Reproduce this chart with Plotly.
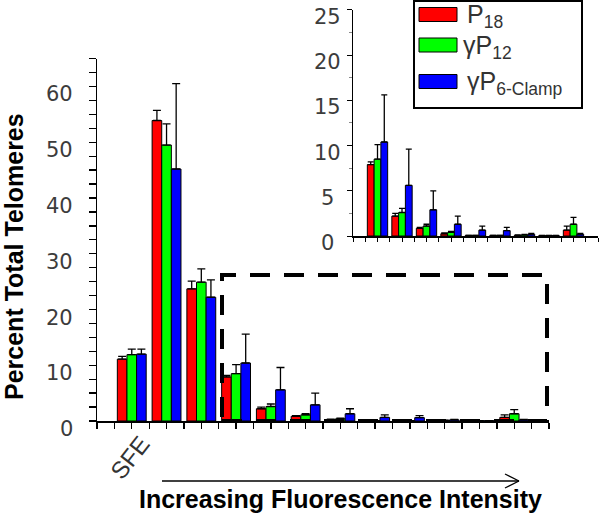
import plotly.graph_objects as go

# ---- data ----
categories = [1, 2, 3, 4, 5, 6, 7, 8, 9, 10, 11, 12]
tick_labels = ["SFE"]
main_y_ticks = [0, 10, 20, 30, 40, 50, 60]
inset_y_ticks = [0, 5, 10, 15, 20, 25]
series_names = ["P<sub>18</sub>", "γP<sub>12</sub>", "γP<sub>6-Clamp</sub>"]
p18 = [11.1, 53.9, 23.7, 7.9, 2.2, 0.85, 0.25, 0.08, 0.08, 0.08, 0.06, 0.65]
gp12 = [11.9, 49.5, 24.9, 8.5, 2.6, 1.1, 0.4, 0.08, 0.08, 0.12, 0.06, 1.3]
gp6 = [12.0, 45.2, 22.2, 10.4, 5.6, 2.9, 1.3, 0.65, 0.6, 0.2, 0.06, 0.2]
p18_err = [0.5, 1.8, 1.4, 0.3, 0.3, 0.1, 0.1, 0.0, 0.0, 0.05, 0.0, 0.45]
gp12_err = [1.0, 3.8, 2.4, 1.6, 0.45, 0.2, 0.1, 0.0, 0.0, 0.05, 0.0, 0.75]
gp6_err = [0.9, 15.3, 3.1, 5.2, 4.0, 2.1, 0.9, 0.45, 0.35, 0.1, 0.0, 0.1]
inset_start = 3  # inset shows categories 4..12

colors = ["#ff0000", "#00ff00", "#0000ff"]
values = [p18, gp12, gp6]
errors = [p18_err, gp12_err, gp6_err]

W, H = 600, 514
def px(x):
    return x / W
def py(y):
    return (H - y) / H

fig = go.Figure()

for name, vals, errs, col in zip(series_names, values, errors, colors):
    fig.add_trace(go.Bar(
        x=categories, y=vals, name=name, marker=dict(color=col, line=dict(color="black", width=1)),
        error_y=dict(type="data", array=errs, arrayminus=[0] * len(errs), symmetric=False,
                     color="black", thickness=1.3, width=4),
        xaxis="x", yaxis="y", showlegend=False,
    ))
    ins_x = categories[inset_start:]
    fig.add_trace(go.Bar(
        x=ins_x, y=vals[inset_start:], name=name,
        marker=dict(color=col, line=dict(color="black", width=1)),
        error_y=dict(type="data", array=errs[inset_start:], arrayminus=[0] * len(ins_x), symmetric=False,
                     color="black", thickness=1.3, width=3),
        xaxis="x2", yaxis="y2", showlegend=False,
    ))

tickfont = dict(family="DejaVu Sans", size=21, color="#3c3c3c")

fig.update_layout(
    template="none",
    width=W, height=H, margin=dict(l=0, r=0, t=0, b=0, autoexpand=False),
    paper_bgcolor="white", plot_bgcolor="rgba(0,0,0,0)",
    barmode="group", bargap=0.17, bargroupgap=0,
    xaxis=dict(domain=[px(97), px(549)], range=[0, 13], showgrid=False, zeroline=False, automargin=False,
               showline=True, linecolor="black", linewidth=2, showticklabels=False,
               dtick=0.5, tick0=0, ticks="outside", ticklen=6, tickcolor="black", tickwidth=1.3),
    yaxis=dict(domain=[py(421), py(58.5)], range=[0, 65.02], showgrid=False, zeroline=False, automargin=False,
               showline=True, linecolor="black", linewidth=1.5, showticklabels=False,
               dtick=2.5, tick0=0, ticks="outside", ticklen=7, tickcolor="black", tickwidth=1.3),
    xaxis2=dict(domain=[px(353), px(598)], range=[3, 13], anchor="y2", showgrid=False, zeroline=False,
                automargin=False, showline=True, linecolor="black", linewidth=1.5,
                dtick=0.5, tick0=0, ticks="outside", ticklen=4, tickcolor="black", tickwidth=1,
                showticklabels=False),
    yaxis2=dict(domain=[py(236), py(9.8)], range=[0, 25.02], anchor="x2", showgrid=False, zeroline=False,
                automargin=False, showline=True, linecolor="black", linewidth=1.5, showticklabels=False,
                dtick=5, tick0=0, ticks="outside", ticklen=5, tickcolor="black", tickwidth=1,
                minor=dict(dtick=2.5, tick0=0, ticks="outside", ticklen=3, tickcolor="#888", tickwidth=1)),
)

shapes = []
# dashed zoom box
shapes.append(dict(type="rect", xref="paper", yref="paper", x0=px(222), x1=px(547), y0=py(421), y1=py(275),
                   line=dict(color="black", width=4, dash="20px,14px"), fillcolor="rgba(0,0,0,0)", layer="above"))
# arrow
shapes.append(dict(type="line", xref="paper", yref="paper", x0=px(162), x1=px(519), y0=py(481), y1=py(481),
                   line=dict(color="black", width=1.3)))
shapes.append(dict(type="line", xref="paper", yref="paper", x0=px(505), x1=px(519), y0=py(474), y1=py(481),
                   line=dict(color="black", width=1.3)))
shapes.append(dict(type="line", xref="paper", yref="paper", x0=px(505), x1=px(519), y0=py(488), y1=py(481),
                   line=dict(color="black", width=1.3)))
# legend box
shapes.append(dict(type="rect", xref="paper", yref="paper", x0=px(414), x1=px(582), y0=py(108), y1=py(1),
                   line=dict(color="black", width=2), fillcolor="white", layer="above"))
legend_rows = [(7.5, 21.5), (38, 52), (74.5, 88.5)]
for (t, b), col in zip(legend_rows, colors):
    shapes.append(dict(type="rect", xref="paper", yref="paper", x0=px(419), x1=px(457), y0=py(b), y1=py(t),
                       line=dict(color="black", width=1), fillcolor=col, layer="above"))
fig.update_layout(shapes=shapes)

annotations = []
for v in main_y_ticks:
    annotations.append(dict(xref="paper", yref="y", x=px(75), y=v, text=str(v), showarrow=False,
                            xanchor="right", yanchor="middle", yshift=-8, font=tickfont))
for v in inset_y_ticks:
    annotations.append(dict(xref="paper", yref="y2", x=px(327), y=v, text=str(v), showarrow=False,
                            xanchor="center", yanchor="middle", yshift=-7, font=tickfont))
legend_text_x = [465, 461, 465]
legend_text_y = [16, 47, 83]
for name, lx, ly in zip(series_names, legend_text_x, legend_text_y):
    annotations.append(dict(xref="paper", yref="paper", x=px(lx), y=py(ly), text=name, showarrow=False,
                            xanchor="left", yanchor="middle",
                            font=dict(family="Arial", size=25, color="#333333")))
annotations.append(dict(xref="paper", yref="paper", x=px(130), y=py(458), text=tick_labels[0], showarrow=False,
                        textangle=-52, xanchor="center", yanchor="middle",
                        font=dict(family="Arial", size=24, color="#333333")))
annotations.append(dict(xref="paper", yref="paper", x=px(340), y=py(499), text="<b>Increasing Fluorescence Intensity</b>",
                        showarrow=False, xanchor="center", yanchor="middle",
                        font=dict(family="Arial", size=25, color="black")))
annotations.append(dict(xref="paper", yref="paper", x=px(14), y=py(257), text="<b>Percent Total Telomeres</b>",
                        showarrow=False, textangle=-90, xanchor="center", yanchor="middle",
                        font=dict(family="Arial", size=25, color="black")))
fig.update_layout(annotations=annotations)

fig.write_html("out.html", config={"displayModeBar": False, "staticPlot": True},
               post_script="document.documentElement.style.margin='0';document.body.style.margin='0';"
                           "document.body.style.overflow='hidden';document.documentElement.style.overflow='hidden';")
